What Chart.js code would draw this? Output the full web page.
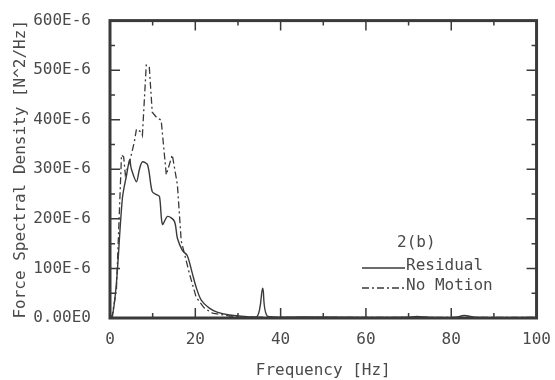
<!DOCTYPE html>
<html lang="en">
<head>
  <meta charset="UTF-8">
  <title>Force Spectral Density</title>
  <script src="https://cdn.jsdelivr.net/npm/chart.js"></script>
  <style>
    html, body { margin: 0; padding: 0; background: #fff; }
    #wrap { width: 555px; height: 380px; }
  </style>
</head>
<body>
  <div id="wrap"><canvas id="psd" width="555" height="380"></canvas></div>

  <script>
    // frequency [Hz] and density [E-6 N^2/Hz]
    const residualHz = [0, 0.5, 1.5, 2.9, 3.9, 4.6, 5.0, 6.2, 6.9, 7.6, 8.8, 9.9, 10.9, 11.6, 12.3, 13.5, 15.1, 15.8, 17.0, 18.1, 19.3, 20.2, 21.4, 23.3, 25.1, 28, 30.3, 34.5, 35.8, 37, 45, 60, 70, 72, 75, 81, 83, 86, 100];
    const residualVal = [0, 0, 70, 241, 289, 319, 301, 275, 300, 315, 309, 255, 249, 245, 189, 205, 195, 161, 136, 126, 90, 62, 36, 20, 12, 6, 4, 3, 60, 3, 2, 1, 1.5, 3, 1, 1, 5, 1, 1];

    const noMotionHz = [0, 0.5, 1.5, 2.7, 3.2, 3.6, 4.6, 5.7, 6.2, 7.4, 7.6, 8.5, 9.2, 9.9, 10.9, 12.0, 13.2, 13.9, 14.6, 15.8, 16.7, 17.4, 18.6, 20.2, 22.1, 24, 28, 32, 40, 100];
    const noMotionVal = [0, 5, 56, 329, 325, 289, 315, 355, 381, 375, 369, 510, 508, 415, 405, 399, 289, 309, 329, 269, 155, 132, 90, 42, 20, 10, 4, 2, 1, 1];

    const xTickLabels = ['0', '20', '40', '60', '80', '100'];
    const yTickLabels = ['0.00E0', '100E-6', '200E-6', '300E-6', '400E-6', '500E-6', '600E-6'];

    const ink = '#3a3a3a';
    const textInk = '#4a4a4a';
    const font = { family: '"DejaVu Sans Mono", "Liberation Mono", monospace', size: 16 };

    function toPoints(xs, ys) {
      return xs.map((x, i) => ({ x: x, y: ys[i] * 1e-6 }));
    }

    // frame with inward ticks on all four sides, plus the legend block
    const framePlugin = {
      id: 'frame',
      afterDraw(chart) {
        const c = chart.ctx;
        const a = chart.chartArea;
        const xs = chart.scales.x;
        const ys = chart.scales.y;
        c.save();
        c.strokeStyle = ink;
        c.lineWidth = 1.5;
        for (let v = 10; v < 100; v += 10) {
          const px = xs.getPixelForValue(v);
          const len = v % 20 === 0 ? 10 : 5;
          c.beginPath();
          c.moveTo(px, a.bottom); c.lineTo(px, a.bottom - len);
          c.moveTo(px, a.top); c.lineTo(px, a.top + len);
          c.stroke();
        }
        for (let v = 50; v < 600; v += 50) {
          const py = ys.getPixelForValue(v * 1e-6);
          const len = v % 100 === 0 ? 10 : 5;
          c.beginPath();
          c.moveTo(a.left, py); c.lineTo(a.left + len, py);
          c.moveTo(a.right, py); c.lineTo(a.right - len, py);
          c.stroke();
        }
        c.lineWidth = 3;
        c.strokeRect(a.left, a.top, a.right - a.left, a.bottom - a.top);

        // legend
        c.fillStyle = textInk;
        c.font = '16px ' + font.family;
        c.textBaseline = 'middle';
        c.fillText('2(b)', 397, 243);
        c.fillText('Residual', 406, 266);
        c.fillText('No Motion', 406, 286);
        c.lineWidth = 1.3;
        c.strokeStyle = ink;
        c.beginPath();
        c.moveTo(362, 268); c.lineTo(405, 268);
        c.stroke();
        c.setLineDash([7, 3, 2, 3]);
        c.beginPath();
        c.moveTo(362, 288); c.lineTo(405, 288);
        c.stroke();
        c.restore();
      }
    };

    new Chart(document.getElementById('psd'), {
      type: 'line',
      data: {
        datasets: [
          {
            label: 'Residual',
            data: toPoints(residualHz, residualVal),
            borderColor: ink,
            borderWidth: 1.4,
            pointRadius: 0,
            tension: 0.3,
            fill: false
          },
          {
            label: 'No Motion',
            data: toPoints(noMotionHz, noMotionVal),
            borderColor: ink,
            borderWidth: 1.3,
            borderDash: [7, 3, 2, 3],
            pointRadius: 0,
            tension: 0,
            fill: false
          }
        ]
      },
      options: {
        responsive: false,
        animation: false,
        layout: { padding: { top: 17, right: 17, left: 11, bottom: 0 } },
        plugins: {
          legend: { display: false },
          tooltip: { enabled: false }
        },
        scales: {
          x: {
            type: 'linear',
            min: 0,
            max: 100,
            grid: { display: false },
            border: { display: false },
            ticks: {
              stepSize: 20,
              color: textInk,
              font: font,
              padding: 4,
              maxRotation: 0,
              callback: (v) => xTickLabels[Math.round(v / 20)]
            },
            title: {
              display: true,
              text: 'Frequency [Hz]',
              color: textInk,
              font: font,
              padding: { top: 6, bottom: 0 }
            },
            afterFit: (s) => { s.height = 62; }
          },
          y: {
            min: 0,
            max: 600e-6,
            grid: { display: false },
            border: { display: false },
            ticks: {
              stepSize: 100e-6,
              color: textInk,
              font: font,
              padding: 11,
              callback: (v) => yTickLabels[Math.round(v / 100e-6)]
            },
            title: {
              display: true,
              text: 'Force Spectral Density [N^2/Hz]',
              color: textInk,
              font: font,
              padding: { top: 0, bottom: 2 }
            },
            afterFit: (s) => { s.width = 99; }
          }
        }
      },
      plugins: [framePlugin]
    });
  </script>
</body>
</html>
